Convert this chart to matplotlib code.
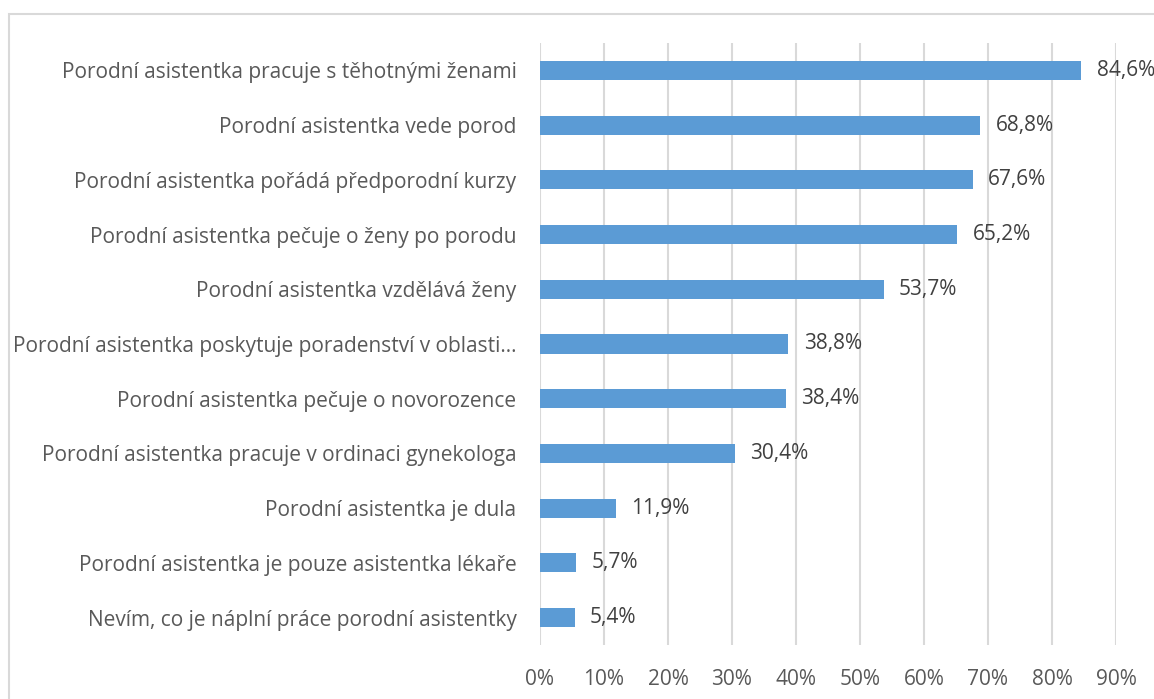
import matplotlib
matplotlib.use("Agg")
import matplotlib.pyplot as plt
from matplotlib.patches import Rectangle
from matplotlib.ticker import FuncFormatter

plt.rcParams['font.family'] = ['Open Sans', 'DejaVu Sans']

categories = [
    "Porodní asistentka pracuje s těhotnými ženami",
    "Porodní asistentka vede porod",
    "Porodní asistentka pořádá předporodní kurzy",
    "Porodní asistentka pečuje o ženy po porodu",
    "Porodní asistentka vzdělává ženy",
    "Porodní asistentka poskytuje poradenství v oblasti…",
    "Porodní asistentka pečuje o novorozence",
    "Porodní asistentka pracuje v ordinaci gynekologa",
    "Porodní asistentka je dula",
    "Porodní asistentka je pouze asistentka lékaře",
    "Nevím, co je náplní práce porodní asistentky",
]
values = [84.6, 68.8, 67.6, 65.2, 53.7, 38.8, 38.4, 30.4, 11.9, 5.7, 5.4]
xticks = [0, 10, 20, 30, 40, 50, 60, 70, 80, 90]

W, H = 1154, 699
fig = plt.figure(figsize=(W / 100, H / 100), dpi=100)
fig.patches.append(Rectangle((9 / W, -0.1), 1.2, 1 - 14 / H + 0.1, transform=fig.transFigure,
                             fill=False, edgecolor='#D9D9D9', linewidth=1.5))

ax = fig.add_axes([540 / W, 1 - 645 / H, (1116 - 540) / W, (645 - 43) / H])
text_color = '#595959'
fs = 15
ypos = list(range(len(categories)))
ax.barh(ypos, values, height=0.35, color='#5B9BD5', zorder=3)
for y, v in zip(ypos, values):
    ax.annotate(f"{v:.1f}".replace('.', ',') + "%", xy=(v, y), xytext=(11, 0),
                textcoords='offset points', va='center', ha='left',
                fontsize=fs, color='#404040')

ax.set_xlim(0, 90)
ax.set_ylim(len(categories) - 0.5, -0.5)
ax.set_xticks(xticks)
ax.xaxis.set_major_formatter(FuncFormatter(lambda x, p: f"{int(x)}%"))
ax.set_yticks(ypos)
ax.set_yticklabels(categories)
ax.grid(axis='x', color='#D9D9D9', linewidth=1.5, zorder=0)
for s in ax.spines.values():
    s.set_visible(False)
ax.tick_params(axis='both', length=0, labelsize=fs, labelcolor=text_color)
ax.tick_params(axis='y', pad=17)
ax.tick_params(axis='x', pad=17)

fig.savefig("out.png", dpi=100)
